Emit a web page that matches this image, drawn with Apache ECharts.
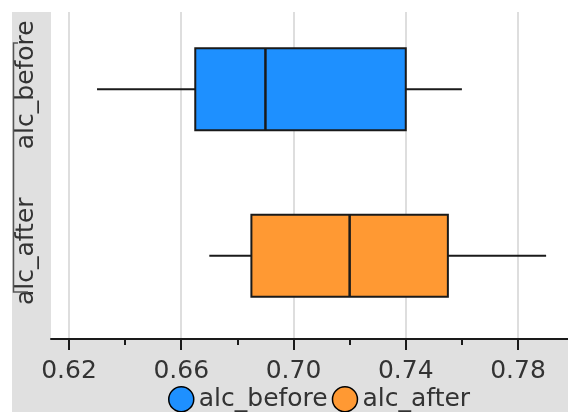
<!DOCTYPE html>
<html>
<head>
<meta charset="utf-8">
<script src="https://cdn.jsdelivr.net/npm/echarts@6/dist/echarts.min.js"></script>
<style>html,body{margin:0;padding:0;background:#fff;}#c{width:568px;height:412px;}</style>
</head>
<body>
<div id="c"></div>
<script>
var categories = ['alc_before', 'alc_after'];
// [min, Q1, median, Q3, max]
var alcBefore = [0.630, 0.665, 0.690, 0.740, 0.760];
var alcAfter = [0.670, 0.685, 0.720, 0.755, 0.790];
var majorTicks = [0.62, 0.66, 0.70, 0.74, 0.78];
var minorTicks = [0.64, 0.68, 0.72, 0.76];
var colors = ['#1E90FF', '#FF9933'];

var FONT = 'DejaVu Sans';
var chart = echarts.init(document.getElementById('c'), null, {renderer: 'canvas'});

function renderBox(params, api) {
  var cat = api.value(0);
  var lo = api.coord([api.value(1), cat]);
  var q1 = api.coord([api.value(2), cat]);
  var med = api.coord([api.value(3), cat]);
  var q3 = api.coord([api.value(4), cat]);
  var hi = api.coord([api.value(5), cat]);
  var h = 82;
  var y = q1[1];
  var stroke = '#1a1a1a';
  var color = api.visual('color');
  return {
    type: 'group',
    children: [
      {type: 'line', shape: {x1: lo[0], y1: y, x2: q1[0], y2: y}, style: {stroke: stroke, lineWidth: 2}},
      {type: 'line', shape: {x1: q3[0], y1: y, x2: hi[0], y2: y}, style: {stroke: stroke, lineWidth: 2}},
      {type: 'rect', shape: {x: q1[0], y: y - h / 2, width: q3[0] - q1[0], height: h}, style: {fill: color, stroke: stroke, lineWidth: 2}},
      {type: 'line', shape: {x1: med[0], y1: y - h / 2, x2: med[0], y2: y + h / 2}, style: {stroke: stroke, lineWidth: 2.5}}
    ]
  };
}

var option = {
  animation: false,
  textStyle: {fontFamily: FONT},
  graphic: [
    {type: 'rect', shape: {x: 12, y: 12, width: 556, height: 400}, style: {fill: '#e0e0e0'}, z: -10, silent: true},
    {type: 'rect', shape: {x: 0, y: 0, width: 568, height: 12}, style: {fill: '#ffffff'}, z: 100, silent: true},
    {type: 'polyline', shape: {points: [[18, 43], [13.5, 43], [13.5, 292], [28, 292]]}, style: {stroke: '#555', lineWidth: 1.5, fill: null}, z: 100, silent: true}
  ],
  grid: {left: 51, right: 0, top: 6, bottom: 73, show: true, backgroundColor: '#ffffff', borderWidth: 0},
  legend: {
    left: 168, top: 386, padding: 0,
    itemWidth: 25, itemHeight: 25, itemGap: 4,
    textStyle: {fontFamily: FONT, fontSize: 25, color: '#333'},
    data: [
      {name: 'alc_before', icon: 'circle', itemStyle: {color: colors[0], borderColor: '#000', borderWidth: 1.5}},
      {name: 'alc_after', icon: 'circle', itemStyle: {color: colors[1], borderColor: '#000', borderWidth: 1.5}}
    ]
  },
  xAxis: [
    {
      type: 'value', min: 0.6136, max: 0.7978, position: 'bottom',
      axisLine: {show: true, lineStyle: {color: '#1a1a1a', width: 2}},
      axisTick: {show: true, customValues: majorTicks, length: 11, lineStyle: {color: '#1a1a1a', width: 2}},
      axisLabel: {show: true, customValues: majorTicks, margin: 20, fontFamily: FONT, fontSize: 25, color: '#333',
        formatter: function (v) { return v.toFixed(2); }},
      splitLine: {show: true, lineStyle: {color: '#dedede', width: 2}}
    },
    {
      type: 'value', min: 0.6136, max: 0.7978, position: 'bottom', offset: 0,
      axisLine: {show: false},
      axisTick: {show: true, customValues: minorTicks, length: 6, lineStyle: {color: '#1a1a1a', width: 2}},
      axisLabel: {show: false},
      splitLine: {show: false}
    }
  ],
  yAxis: {
    type: 'category', data: categories, inverse: true,
    axisLine: {show: false}, axisTick: {show: false}, splitLine: {show: false},
    axisLabel: {rotate: 90, interval: 0, hideOverlap: false, margin: 12, fontFamily: FONT, fontSize: 25, color: '#333', padding: [0, 0, 0, 9]}
  },
  series: [
    {name: 'alc_before', type: 'custom', xAxisIndex: 0, itemStyle: {color: colors[0]},
      encode: {y: 0, x: [1, 2, 3, 4, 5]}, renderItem: renderBox,
      data: [[categories[0]].concat(alcBefore)]},
    {name: 'alc_after', type: 'custom', xAxisIndex: 0, itemStyle: {color: colors[1]},
      encode: {y: 0, x: [1, 2, 3, 4, 5]}, renderItem: renderBox,
      data: [[categories[1]].concat(alcAfter)]}
  ]
};
chart.setOption(option);
</script>
</body>
</html>
